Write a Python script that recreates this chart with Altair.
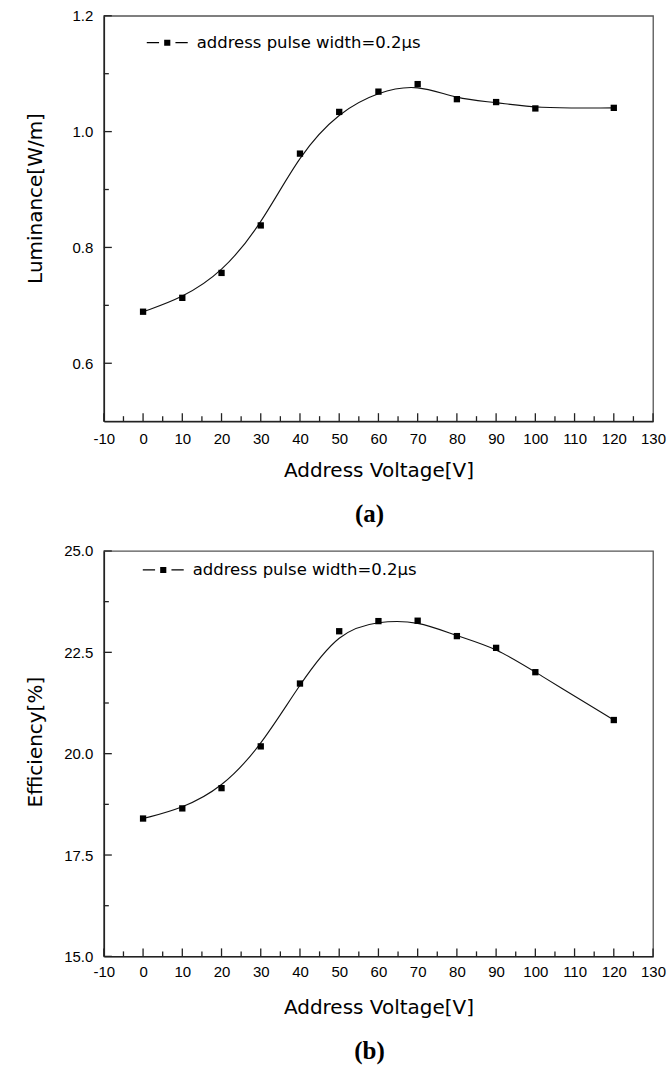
import altair as alt
import pandas as pd

# ---- data ----
voltage_a = [0, 10, 20, 30, 40, 50, 60, 70, 80, 90, 100, 120]
luminance = [0.689, 0.713, 0.756, 0.838, 0.962, 1.034, 1.069, 1.082, 1.056, 1.051, 1.040, 1.041]

voltage_b = [0, 10, 20, 30, 40, 50, 60, 70, 80, 90, 100, 120]
efficiency = [18.40, 18.65, 19.15, 20.18, 21.73, 23.02, 23.27, 23.28, 22.90, 22.61, 22.01, 20.83]

series_name = "address pulse width=0.2μs"

x_major = list(range(-10, 131, 10))
x_minor = list(range(-5, 131, 10))
lum_major = [0.6, 0.8, 1.0, 1.2]
lum_minor = [0.7, 0.9, 1.1]
eff_major = [15.0, 17.5, 20.0, 22.5, 25.0]
eff_minor = [16.25, 18.75, 21.25, 23.75]

W, H = 550, 406
SANS = "Liberation Sans"
TITLE_FONT = "DejaVu Sans"
LEGEND_PATH = ("M-1,-0.03H-0.4V0.03H-1Z M0.4,-0.03H1V0.03H0.4Z "
               "M-0.15,-0.15H0.15V0.15H-0.15Z")


def panel(xs, ys, ytitle, ydomain, ymajor, yminor, yfmt, label_pad_x,
          xtitle_y, ytitle_y, legend_x, legend_y, tag):
    df = pd.DataFrame({"V": xs, "Y": ys, "series": [series_name] * len(xs)})
    xscale = alt.Scale(domain=[-10, 130], nice=False, zero=False)
    yscale = alt.Scale(domain=ydomain, nice=False, zero=False)

    xaxis = alt.Axis(values=x_major, format="d", ticks=False, tickSize=0,
                     labelExpr="replace(datum.label, '\u2212', '-')",
                     grid=False, labelFont=SANS, labelFontSize=15,
                     labelColor="black", labelPadding=label_pad_x,
                     labelFlush=False, labelOverlap=False,
                     domainColor="#222", domainWidth=1.5,
                     title="Address Voltage[V]", titleFont=TITLE_FONT,
                     titleFontSize=20, titleFontWeight="normal",
                     titleColor="black", titleBaseline="top",
                     titleY=xtitle_y, titleX=W / 2)
    yaxis = alt.Axis(values=ymajor, format=yfmt, ticks=False, tickSize=0,
                     grid=False, labelFont=SANS, labelFontSize=15,
                     labelColor="black", labelPadding=11,
                     labelFlush=False, labelOverlap=False,
                     domainColor="#222", domainWidth=1.5,
                     title=ytitle, titleFont=TITLE_FONT, titleFontSize=20,
                     titleFontWeight="normal", titleColor="black",
                     titleBaseline="alphabetic", titleX=-62, titleY=ytitle_y)

    def X(field):
        return alt.X(field, scale=xscale, axis=xaxis)

    def Y(field):
        return alt.Y(field, scale=yscale, axis=yaxis)

    base = alt.Chart(df)
    line = base.mark_line(interpolate="basis", color="#111", strokeWidth=1.1).encode(
        x=X("V:Q"), y=Y("Y:Q"),
    )
    pts = base.mark_point(shape="square", filled=True, size=40, opacity=1).encode(
        x=X("V:Q"), y=Y("Y:Q"),
        color=alt.Color("series:N", scale=alt.Scale(range=["black"]),
                        legend=alt.Legend(title=None, orient="none",
                                          legendX=legend_x, legendY=legend_y,
                                          symbolType=LEGEND_PATH,
                                          symbolSize=1681,
                                          symbolStrokeWidth=0,
                                          symbolFillColor="black",
                                          labelFont=TITLE_FONT,
                                          labelFontSize=16.5,
                                          labelColor="black",
                                          labelLimit=500,
                                          labelOffset=9, padding=0)),
    )

    def xticks(vals, length):
        return alt.Chart(pd.DataFrame({"V": vals})).mark_rule(
            color="#222", strokeWidth=1.3).encode(
            x=X("V:Q"), y=alt.value(H), y2=alt.value(H - length))

    def yticks(vals, length):
        return alt.Chart(pd.DataFrame({"Y": vals})).mark_rule(
            color="#222", strokeWidth=1.3).encode(
            y=Y("Y:Q"), x=alt.value(0), x2=alt.value(length))

    layers = [line, pts, xticks(x_major, 8), xticks(x_minor, 5),
              yticks(ymajor, 8), yticks(yminor, 5)]
    return alt.layer(*layers).properties(
        width=W, height=H,
        title=alt.TitleParams(tag, orient="bottom", anchor="middle",
                              font="Liberation Serif", fontSize=25,
                              fontWeight="bold", color="black",
                              offset=22, dx=-9),
    )


top = panel(voltage_a, luminance, "Luminance[W/m]", [0.5, 1.2], lum_major,
            lum_minor, ".1f", 10, 39, 182.5, 43, 6.5, "(a)")
bottom = panel(voltage_b, efficiency, "Efficiency[%]", [15.0, 25.0], eff_major,
               eff_minor, ".1f", 8, 41, 191, 39, -1.5, "(b)")

chart = alt.vconcat(top, bottom, spacing=15).resolve_scale(
    color="independent").resolve_legend(color="independent").properties(
    padding={"left": 25, "top": 7, "right": 2, "bottom": 5},
    background="white",
).configure_view(stroke="#555", strokeWidth=1.3)

chart.save("out.html", embed_options={"renderer": "svg", "actions": False})
